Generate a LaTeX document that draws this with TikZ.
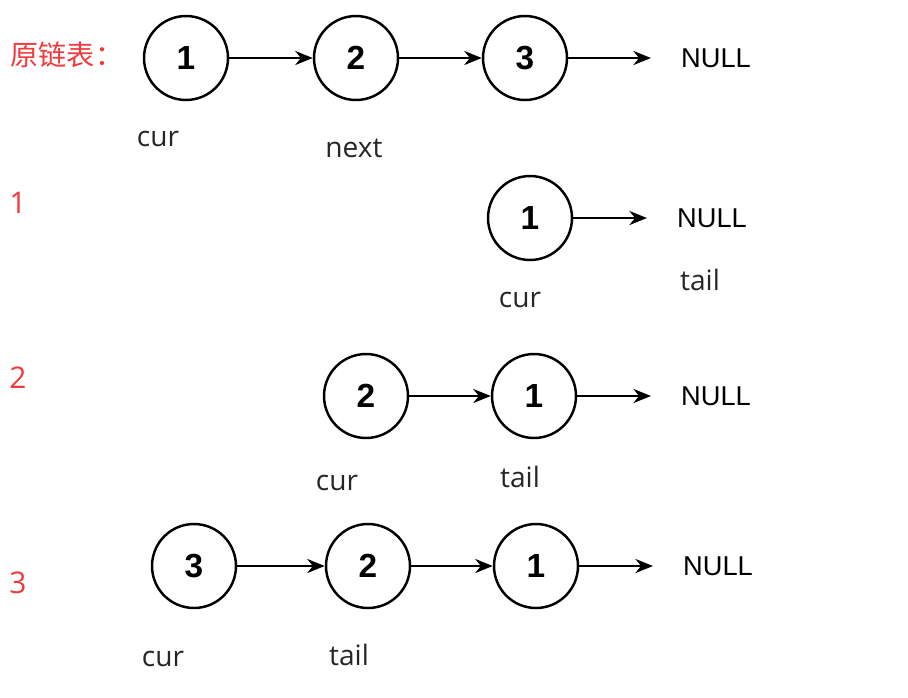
\documentclass[tikz,border=0pt]{standalone}
\usepackage{fontspec}
\setmainfont{Open Sans}
\newfontfamily\numfont{Liberation Sans}
\newfontfamily\cjk{Noto Sans CJK SC}
\usetikzlibrary{arrows.meta}
\definecolor{stepred}{HTML}{F03A3F}

\begin{document}
\begin{tikzpicture}[x=0.02cm,y=-0.02cm,>={Stealth[length=10pt,width=8pt]},
  listnode/.style={circle,draw,line width=1.4pt,minimum size=1.68cm,inner sep=0pt,font=\numfont\bfseries\fontsize{19}{19}\selectfont},
  nullnode/.style={font=\numfont\fontsize{15.5}{16}\selectfont,inner xsep=17pt},
  ptr/.style={font=\fontsize{16}{18}\selectfont,text=black!85},
  steplabel/.style={font=\fontsize{17}{18}\selectfont,text=stepred},
  link/.style={->,line width=1.5pt}]
\useasboundingbox (0,0) rectangle (908,697);
% original list
\node[steplabel,font=\cjk\fontsize{16}{18}\selectfont] (title) at (67,55) {原链表：};
\node[listnode] (a1) at (186,58) {1};
\node[listnode] (a2) at (356,58) {2};
\node[listnode] (a3) at (525,58) {3};
\node[nullnode] (anull) at (716,58) {NULL};
\node[ptr] (acur) at (158,139) {cur};
\node[ptr] (anext) at (354,148) {next};
\draw[link] (a1) -- (a2);
\draw[link] (a2) -- (a3);
\draw[link] (a3) -- (anull);
% step 1
\node[steplabel] (s1) at (18,203) {1};
\node[listnode] (b1) at (530,218) {1};
\node[nullnode] (bnull) at (712,218) {NULL};
\node[ptr] (btail) at (700,280) {tail};
\node[ptr] (bcur) at (520,300) {cur};
\draw[link] (b1) -- (bnull);
% step 2
\node[steplabel] (s2) at (18,378) {2};
\node[listnode] (c2) at (366,396) {2};
\node[listnode] (c1) at (534,396) {1};
\node[nullnode] (cnull) at (716,396) {NULL};
\node[ptr] (ccur) at (337,483) {cur};
\node[ptr] (ctail) at (520,477) {tail};
\draw[link] (c2) -- (c1);
\draw[link] (c1) -- (cnull);
% step 3
\node[steplabel] (s3) at (18,583) {3};
\node[listnode] (d3) at (194,566) {3};
\node[listnode] (d2) at (368,566) {2};
\node[listnode] (d1) at (536,566) {1};
\node[nullnode] (dnull) at (718,566) {NULL};
\node[ptr] (dcur) at (163,659) {cur};
\node[ptr] (dtail) at (349,655) {tail};
\draw[link] (d3) -- (d2);
\draw[link] (d2) -- (d1);
\draw[link] (d1) -- (dnull);
\end{tikzpicture}
\end{document}
